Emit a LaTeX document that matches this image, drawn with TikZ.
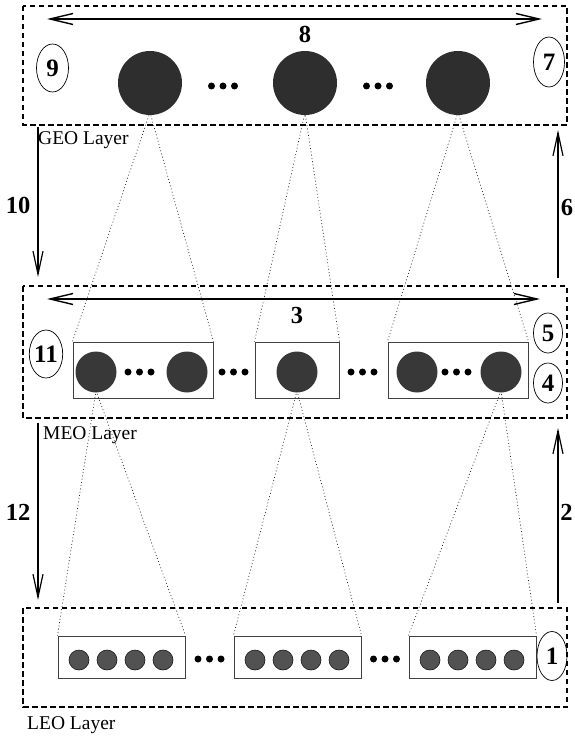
\documentclass[tikz,border=0pt]{standalone}
\usepackage{fontspec}
\setmainfont{Liberation Serif}
\usetikzlibrary{arrows.meta,shapes.geometric}
\newcommand\satdots[2]{% three dots centred at (#1,#2)
  \foreach \dx in {-11.5,0,11.5} {\fill (#1+\dx,#2) circle (3.5pt);}}
\begin{document}
\begin{tikzpicture}[x=1pt,y=-1pt,
  layer/.style={draw, line width=1.2pt, dash pattern=on 5.5pt off 3.5pt},
  link/.style={draw=black!85, line width=0.7pt, dash pattern=on 0.9pt off 2.4pt},
  geosat/.style={circle, fill=black!82, minimum size=64pt, inner sep=0pt},
  meosat/.style={circle, fill=black!78, minimum size=41pt, inner sep=0pt},
  leosat/.style={circle, fill=black!68, draw=black!90, line width=0.6pt, minimum size=20pt, inner sep=0pt},
  meogroup/.style={draw=black!75, line width=1pt, fill=white, minimum height=56pt, inner sep=0pt},
  leogroup/.style={draw=black!75, line width=1pt, fill=white, minimum height=42pt, minimum width=127pt, inner sep=0pt},
  tag/.style={font=\fontsize{24.5}{24.5}\selectfont\bfseries, inner sep=0pt},
  idx/.style={draw, ellipse, line width=0.7pt, inner sep=0pt, font=\fontsize{25}{25}\selectfont\bfseries},
  layername/.style={font=\fontsize{19.5}{20}\selectfont, anchor=west, inner sep=0pt},
  flow/.style={line width=1.2pt, -{Straight Barb[length=23pt,width=10pt,line width=1.2pt]}},
  span/.style={line width=1.5pt, {Straight Barb[length=23pt,width=11pt,line width=1.4pt]}-{Straight Barb[length=23pt,width=11pt,line width=1.4pt]}}
]
\useasboundingbox (0,0) rectangle (574,741);

% ---- satellites and groups ----
\node[geosat] (g1) at (150,83) {};
\node[geosat] (g2) at (305,83) {};
\node[geosat] (g3) at (458,83) {};

\node[meogroup, minimum width=140pt] (mb1) at (143,370) {};
\node[meogroup, minimum width=84pt]  (mb2) at (297,370) {};
\node[meogroup, minimum width=140pt] (mb3) at (458,370) {};

\node[leogroup] (lb1) at (121.5,657) {};
\node[leogroup] (lb2) at (297.5,657) {};
\node[leogroup] (lb3) at (472.5,657) {};

% ---- coverage cones from each GEO satellite to an MEO group ----
\coordinate (ga1) at ([yshift=3pt]g1.south);
\coordinate (ga2) at ([yshift=3pt]g2.south);
\coordinate (ga3) at ([yshift=3pt]g3.south);
\draw[link] (ga1) -- (mb1.north west) (ga1) -- (mb1.north east);
\draw[link] (ga2) -- (mb2.north west) (ga2) -- (mb2.north east);
\draw[link] (ga3) -- (mb3.north west) (ga3) -- (mb3.north east);

\node[meosat] (m1) at (96,372) {};
\node[meosat] (m2) at (187,372) {};
\node[meosat] (m3) at (297,372) {};
\node[meosat] (m4) at (417,372) {};
\node[meosat] (m5) at (501,372) {};

% ---- coverage cones from MEO satellites to LEO groups ----
\coordinate (ma1) at ([yshift=2pt]m1.south);
\coordinate (ma3) at ([yshift=2pt]m3.south);
\coordinate (ma5) at ([yshift=2pt]m5.south);
\draw[link] (ma1) -- (lb1.north west) (ma1) -- (lb1.north east);
\draw[link] (ma3) -- (lb2.north west) (ma3) -- (lb2.north east);
\draw[link] (ma5) -- (lb3.north west) (ma5) -- (lb3.north east);

\foreach \b/\x in {1/79,2/255,3/430} {
  \foreach \k in {0,1,2,3} {
    \node[leosat] (l\b\k) at (\x+28*\k,660) {};
  }
}

% ---- ellipsis dots ----
\satdots{223}{86}
\satdots{378}{86}
\satdots{139.5}{372}
\satdots{233.5}{372}
\satdots{362.5}{372}
\satdots{456.5}{372}
\satdots{209.5}{659}
\satdots{385}{659}

% ---- layer frames ----
\draw[layer] (23,6) rectangle (567,125);
\draw[layer] (23,286) rectangle (567,418);
\draw[layer] (23,608) rectangle (567,707);

\node[layername] (geoname) at (38,140) {GEO Layer};
\node[layername] (meoname) at (43,435) {MEO Layer};
\node[layername] (leoname) at (27,725) {LEO Layer};

% ---- intra-layer spans ----
\coordinate (s8a) at (47,19);  \coordinate (s8b) at (542,19);
\coordinate (s3a) at (47,299); \coordinate (s3b) at (540,299);
\draw[span] (s8a) -- (s8b);
\draw[span] (s3a) -- (s3b);
\node[tag] (t8) at (305,34) {8};
\node[tag] (t3) at (297,316) {3};

% ---- inter-layer flows ----
\coordinate (f10a) at (38,127); \coordinate (f10b) at (38,277);
\coordinate (f6a)  at (558,278); \coordinate (f6b) at (558,130);
\coordinate (f12a) at (38,423); \coordinate (f12b) at (38,600);
\coordinate (f2a)  at (558,603); \coordinate (f2b) at (558,428);
\draw[flow] (f10a) -- (f10b);
\draw[flow] (f6a) -- (f6b);
\draw[flow] (f12a) -- (f12b);
\draw[flow] (f2a) -- (f2b);
\node[tag] (t10) at (18,205) {10};
\node[tag] (t6)  at (567,208) {6};
\node[tag] (t12) at (18,512) {12};
\node[tag] (t2)  at (566.5,512) {2};

% ---- numbered markers ----
\node[idx, minimum width=32pt, minimum height=48pt] (e9)  at (52.5,68) {9};
\node[idx, minimum width=31pt, minimum height=50pt] (e7)  at (549,62) {7};
\node[idx, minimum width=31pt, minimum height=48pt] (e11) at (46,354) {11};
\node[idx, minimum width=29pt, minimum height=40pt] (e5)  at (548,333) {5};
\node[idx, minimum width=29pt, minimum height=40pt] (e4)  at (548,383) {4};
\node[idx, minimum width=30pt, minimum height=49pt] (e1)  at (552,656) {1};
\end{tikzpicture}
\end{document}
